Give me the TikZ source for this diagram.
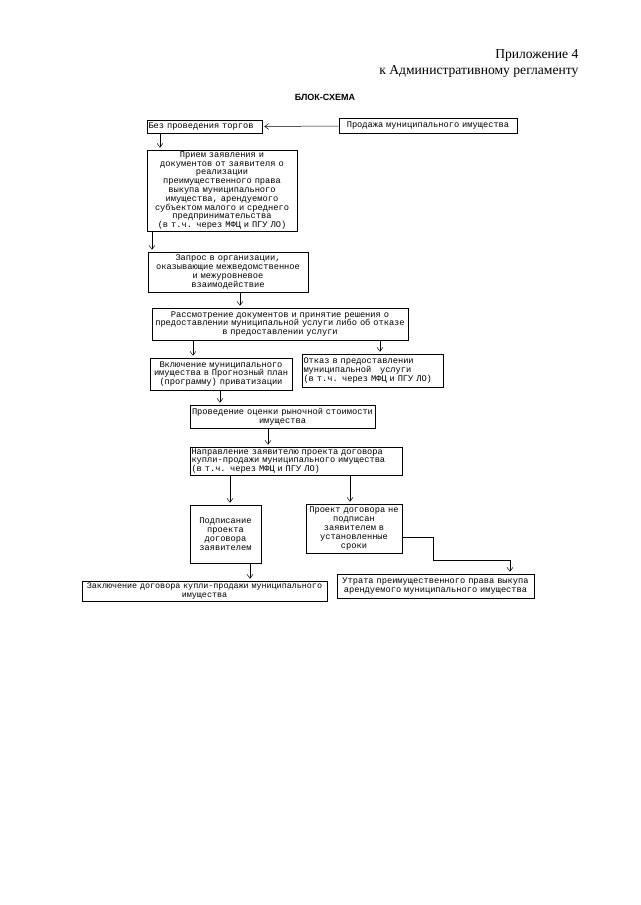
\documentclass[tikz,border=0pt]{standalone}
\usepackage{fontspec}
\setmainfont{Liberation Serif}
\newfontfamily\boxfont{Liberation Mono}
\newfontfamily\headfont{Liberation Sans}
\usetikzlibrary{positioning,arrows.meta}

\begin{document}
\begin{tikzpicture}[
  x=1pt, y=-1pt,
  box/.style={draw, line width=0.6pt, inner xsep=1.5pt, inner ysep=1pt, align=center,
    font=\boxfont\fontsize{8.7}{8.8}\selectfont},
  lbox/.style={box, align=left},
  arr/.style={-{Straight Barb[length=4pt,width=6pt]}, line width=0.5pt, shorten >=2pt}
]
\useasboundingbox (0,0) rectangle (640,905);

% title
\node[anchor=east, font=\fontsize{13.6}{16}\selectfont] (app) at (582,55) {Приложение 4};
\node[anchor=east, font=\fontsize{13.6}{16}\selectfont] (reg) at (582,71) {к Административному регламенту};
\node[font=\headfont\bfseries\fontsize{9}{10}\selectfont] (head) at (325,97) {БЛОК-СХЕМА};

% boxes
\node[lbox, text width=112pt, minimum height=13pt] (bez) at (204.5,126.5) {Без проведения торгов};
\node[box, text width=175pt, minimum height=15pt] (prod) at (428,126) {Продажа муниципального имущества};
\node[box, text width=147pt, minimum height=81pt] (priem) at (222,190.5)
  {Прием заявления и\\документов от заявителя о\\реализации\\преимущественного права\\выкупа муниципального\\имущества, арендуемого\\субъектом малого и среднего\\предпринимательства\\(в т.ч. через МФЦ и ПГУ ЛО)};
\node[box, text width=157pt, minimum height=40pt] (zapros) at (228,272)
  {Запрос в организации,\\оказывающие межведомственное\\и межуровневое\\взаимодействие};
\node[box, text width=253pt, minimum height=32pt] (rassm) at (280,324)
  {Рассмотрение документов и принятие решения о\\предоставлении муниципальной услуги либо об отказе\\в предоставлении услуги};
\node[box, text width=139pt, minimum height=32pt] (vkl) at (221,374)
  {Включение муниципального\\имущества в Прогнозный план\\(программу) приватизации};
\node[lbox, text width=138pt, minimum height=33pt] (otkaz) at (372.5,370.5)
  {Отказ в предоставлении\\муниципальной~~~услуги\\(в т.ч. через МФЦ и ПГУ ЛО)};
\node[box, text width=182pt, minimum height=23pt] (ocenka) at (282.5,416.5)
  {Проведение оценки рыночной стоимости\\имущества};
\node[lbox, text width=209pt, minimum height=28pt] (naprav) at (296,461)
  {Направление заявителю проекта договора\\купли-продажи муниципального имущества\\(в т.ч. через МФЦ и ПГУ ЛО)};
\node[box, text width=68pt, minimum height=58pt] (podp) at (225.5,534)
  {Подписание\\проекта\\договора\\заявителем};
\node[box, text width=93pt, minimum height=49pt] (proekt) at (354,528.5)
  {Проект договора не\\подписан\\заявителем в\\установленные\\сроки};
\node[box, text width=243pt, minimum height=20pt, inner xsep=1pt,
  font=\boxfont\fontsize{8.4}{8.8}\selectfont] (zakl) at (204.5,591)
  {\mbox{Заключение договора купли-продажи муниципального}\\имущества};
\node[box, text width=194pt, minimum height=24pt] (utrata) at (435.5,586)
  {Утрата преимущественного права выкупа\\арендуемого муниципального имущества};

\coordinate (knee) at (433,560);

% connectors
\draw[arr] (prod.west) -- (bez.east);
\draw[arr] ([xshift=-44.5pt]bez.south) -- ([xshift=-62pt]priem.north);
\draw[arr] ([xshift=-70pt]priem.south) -- ([xshift=-76pt]zapros.north);
\draw[arr] ([xshift=12pt]zapros.south) -- ([xshift=-40pt]rassm.north);
\draw[arr] ([xshift=-87pt]rassm.south) -- ([xshift=-28pt]vkl.north);
\draw[arr] ([xshift=100pt]rassm.south) -- ([xshift=7.5pt]otkaz.north);
\draw[arr] ([xshift=-1pt]vkl.south) -- ([xshift=-62.5pt]ocenka.north);
\draw[arr] ([xshift=-14.5pt]ocenka.south) -- ([xshift=-28pt]naprav.north);
\draw[arr] ([xshift=-66pt]naprav.south) -- ([xshift=4.5pt]podp.north);
\draw[arr] ([xshift=54pt]naprav.south) -- ([xshift=-4pt]proekt.north);
\draw[arr] ([xshift=24.5pt]podp.south) -- ([xshift=45.5pt]zakl.north);
\draw[arr] ([yshift=-8.5pt]proekt.east) -| (knee) -| ([xshift=74.5pt]utrata.north);
\end{tikzpicture}
\end{document}
